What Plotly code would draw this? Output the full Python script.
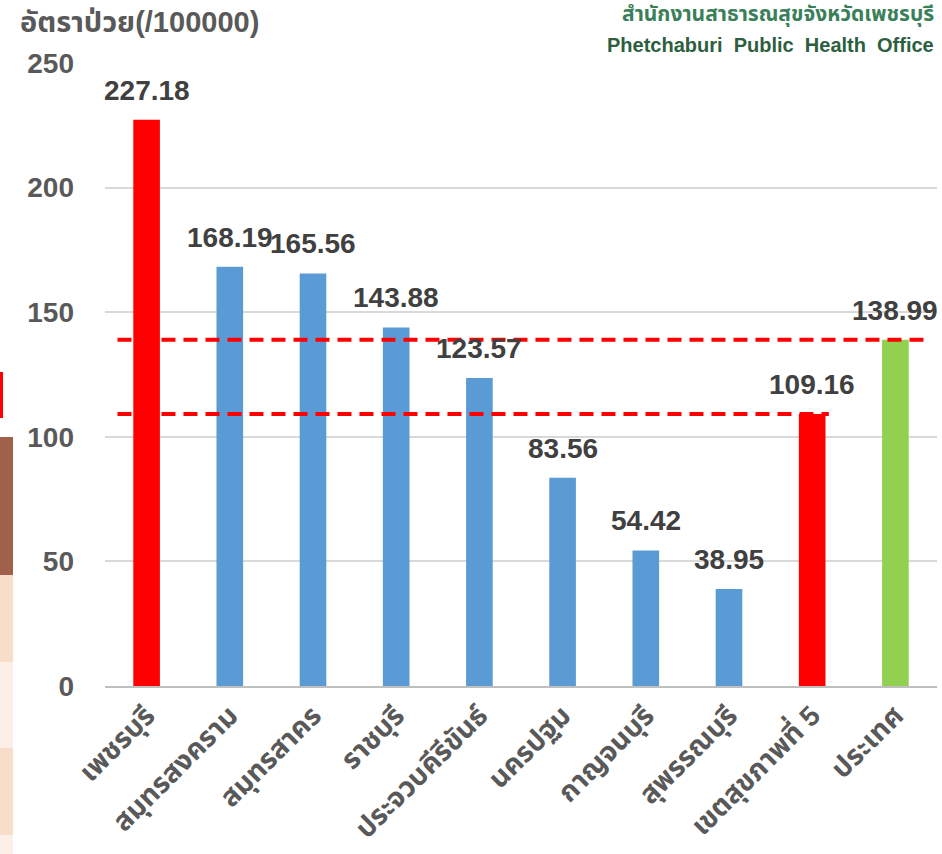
import plotly.graph_objects as go

categories = ["เพชรบุรี", "สมุทรสงคราม", "สมุทรสาคร", "ราชบุรี", "ประจวบคีรีขันธ์",
              "นครปฐม", "กาญจนบุรี", "สุพรรณบุรี", "เขตสุขภาพที่ 5", "ประเทศ"]
values = [227.18, 168.19, 165.56, 143.88, 123.57, 83.56, 54.42, 38.95, 109.16, 138.99]
bar_colors = ["#FF0000", "#5B9BD5", "#5B9BD5", "#5B9BD5", "#5B9BD5",
              "#5B9BD5", "#5B9BD5", "#5B9BD5", "#FF0000", "#92D050"]
region_rate = 109.16
country_rate = 138.99
y_ticks = [0, 50, 100, 150, 200, 250]

FONT = "Liberation Sans, Noto Sans, Noto Sans Thai, sans-serif"

fig = go.Figure()
fig.add_trace(go.Bar(
    x=categories, y=values, marker=dict(color=bar_colors, line=dict(width=0)),
    width=0.32, showlegend=False, hoverinfo="skip",
))

for c, v in zip(categories, values):
    fig.add_annotation(x=c, y=v, text=f"<b>{v:.2f}</b>", showarrow=False,
                       yanchor="bottom", yshift=12,
                       font=dict(family=FONT, size=28, color="#404040"))

# reference lines
fig.add_shape(type="line", xref="x", yref="y", x0=-0.35, x1=9.34,
              y0=country_rate, y1=country_rate,
              line=dict(color="#FF0000", width=4, dash="14px,8px"))
fig.add_shape(type="line", xref="x", yref="y", x0=-0.35, x1=8.2,
              y0=region_rate, y1=region_rate,
              line=dict(color="#FF0000", width=4, dash="14px,8px"))

# left-edge decorative slide remnants
def px_x(p):
    return (p - 105) / 832.0

def px_y(p):
    return (686 - p) / 623.0

fig.add_shape(type="rect", xref="paper", yref="paper", x0=px_x(-10), x1=px_x(3),
              y0=px_y(418), y1=px_y(372), fillcolor="#FF0000", line=dict(width=0), layer="above")
for top, bot, col in [(437, 575, "#A0614A"), (575, 662, "#F8DDCA"), (662, 748, "#FCEFE7"),
                      (748, 835, "#F8DDCA"), (835, 860, "#FCEFE7")]:
    fig.add_shape(type="rect", xref="paper", yref="paper", x0=px_x(-5), x1=px_x(13),
                  y0=px_y(bot), y1=px_y(top), fillcolor=col, line=dict(width=0), layer="above")

fig.add_annotation(xref="paper", yref="paper", x=px_x(18), y=px_y(22), xanchor="left",
                   yanchor="middle", text="<b>อัตราป่วย(/100000)</b>", showarrow=False,
                   font=dict(family=FONT, size=29, color="#595959"))
fig.add_annotation(xref="paper", yref="paper", x=px_x(936), y=px_y(14), xanchor="right",
                   yanchor="middle", text="<b>สำนักงานสาธารณสุขจังหวัดเพชรบุรี</b>", showarrow=False,
                   font=dict(family=FONT, size=21, color="#3A7F5A"))
fig.add_annotation(xref="paper", yref="paper", x=px_x(936), y=px_y(45), xanchor="right",
                   yanchor="middle", text="<b>Phetchaburi  Public  Health  Office</b>", showarrow=False,
                   font=dict(family=FONT, size=20, color="#2D5F3F"))

fig.update_layout(
    width=942, height=854,
    margin=dict(l=105, r=5, t=63, b=168, autoexpand=False),
    plot_bgcolor="white", paper_bgcolor="white",
    xaxis=dict(tickangle=-45,
               tickfont=dict(family=FONT, size=28, color="#595959", weight="bold"),
               showline=True, linecolor="#BFBFBF", linewidth=2, ticks="",
               range=[-0.5, 9.5]),
    yaxis=dict(range=[0, 250], tickvals=y_ticks, showgrid=True, gridcolor="#D9D9D9",
               gridwidth=2, zeroline=False, ticks="", ticklabelstandoff=30,
               tickfont=dict(family=FONT, size=28, color="#595959", weight="bold")),
    font=dict(family=FONT),
)

fig.write_html("out.html", config={"displayModeBar": False},
               post_script="document.body.style.margin='0';")
